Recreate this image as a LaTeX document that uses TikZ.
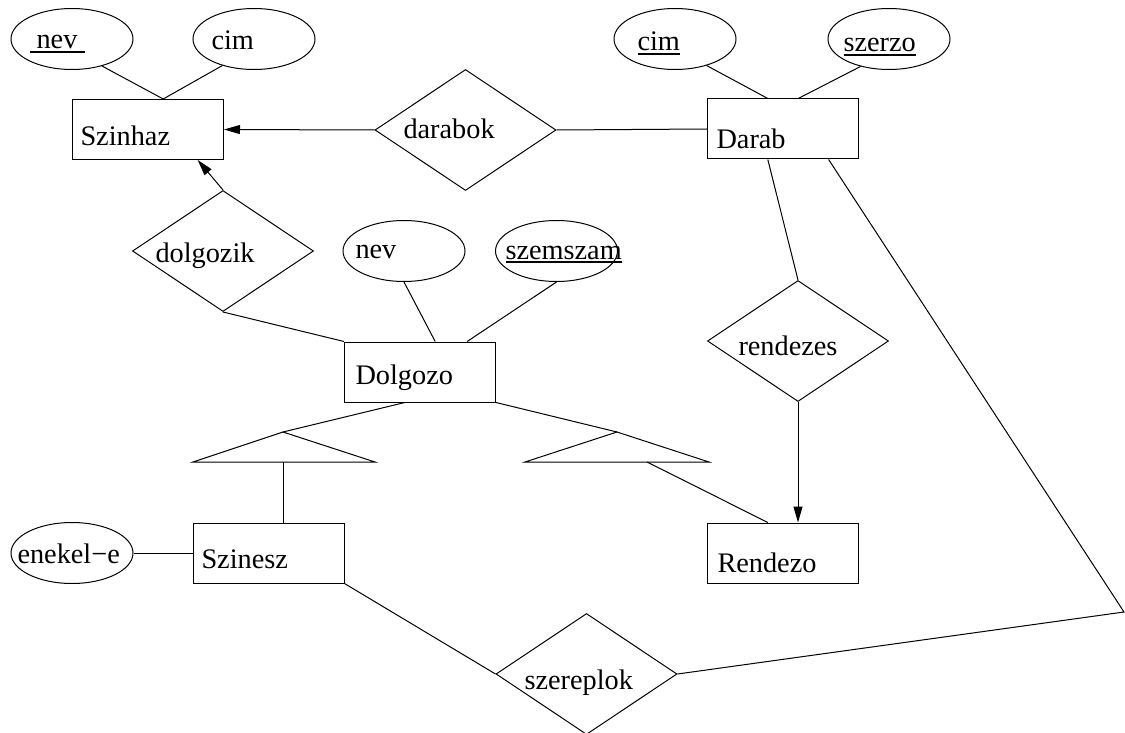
\documentclass[tikz,border=0pt]{standalone}
\usepackage{fontspec}
\setmainfont{Liberation Serif}
\usetikzlibrary{positioning,shapes.geometric,arrows.meta,calc}
\newcommand{\ulkey}[1]{\setbox0\hbox{#1}\rlap{\rule[-4pt]{\wd0}{1.6pt}}\box0}

\begin{document}
\begin{tikzpicture}[x=1pt,y=-1pt,line width=1pt,
  myentity/.style = {draw=black, rectangle, minimum width=151pt, minimum height=60pt, inner sep=0pt},
  myattr/.style = {draw=black, ellipse, minimum width=122pt, minimum height=61pt, inner sep=0pt},
  myrel/.style = {draw=black, diamond, minimum width=181pt, minimum height=121pt, inner sep=0pt},
  mytext/.style = {anchor=base west, inner sep=0pt, font=\fontsize{28.3}{34}\selectfont},
  myarrow/.style = {-{Triangle[length=16pt,width=9pt]}}]
\useasboundingbox (0,0) rectangle (1125,733);

% entities
\node[myentity] (szinhaz) at (148,129.5) {};
\node[myentity] (darab) at (783,129) {};
\node[myentity] (dolgozo) at (420,372) {};
\node[myentity] (szinesz) at (268.5,553) {};
\node[myentity] (rendezo) at (783,553) {};
\node[mytext] (t-szinhaz) at (80,146) {Szinhaz};
\node[mytext] (t-darab) at (716,149) {Darab};
\node[mytext] (t-dolgozo) at (355,384) {Dolgozo};
\node[mytext] (t-szinesz) at (201,568) {Szinesz};
\node[mytext] (t-rendezo) at (717,572) {Rendezo};

% attributes
\node[myattr] (nev1) at (72,39) {};
\node[myattr] (cim1) at (254,39) {};
\node[myattr] (cim2) at (675,39) {};
\node[myattr] (szerzo) at (889,39) {};
\node[myattr] (nev2) at (404,251) {};
\node[myattr] (szemszam) at (556.5,251) {};
\node[myattr] (enekel) at (72,553) {};
\node[mytext] (t-nev1) at (29,49) {\ulkey{\ nev\ }};
\node[mytext] (t-cim1) at (211,50) {cim};
\node[mytext] (t-cim2) at (637,51) {\ulkey{cim}};
\node[mytext] (t-szerzo) at (843,52) {\ulkey{szerzo}};
\node[mytext] (t-nev2) at (355,258) {nev};
\node[mytext] (t-szemszam) at (505,259) {\ulkey{szemszam}};
\node[mytext] (t-enekel) at (17,563) {enekel−e};

% relationships
\node[myrel] (darabok) at (465.5,130) {};
\node[myrel] (dolgozik) at (223,251) {};
\node[myrel] (rendezes) at (798,341) {};
\node[myrel] (szereplok) at (586.5,674) {};
\node[mytext] (t-darabok) at (403,139) {darabok};
\node[mytext] (t-dolgozik) at (155,262) {dolgozik};
\node[mytext] (t-rendezes) at (738,355) {rendezes};
\node[mytext] (t-szereplok) at (524,689) {szereplok};

% isa triangles
\draw (283,432) coordinate (isa1) -- (193,462) -- (375,462) -- cycle;
\draw (617,432) coordinate (isa2) -- (525,462) -- (709,462) -- cycle;
\coordinate (isa1b) at (283,462);
\coordinate (isa2b) at (647,462);
\coordinate (knee) at (1124,612);

\draw (nev1.-42) -- ($(szinhaz.north west)!.6!(szinhaz.north east)$);
\draw (cim1.220) -- ($(szinhaz.north west)!.6!(szinhaz.north east)$);
\draw (cim2.-40) -- ($(darab.north west)!.4!(darab.north east)$);
\draw (szerzo.224) -- ($(darab.north west)!.6!(darab.north east)$);
\draw (nev2.south) -- ($(dolgozo.north west)!.6!(dolgozo.north east)$);
\draw (szemszam.south) -- ($(dolgozo.north west)!.81!(dolgozo.north east)$);
\draw (enekel.east) -- (szinesz.west);

\draw[myarrow] (darabok.west) -- (szinhaz.east);
\draw (darabok.east) -- (darab.west);
\draw[myarrow] (dolgozik.north) -- ($(szinhaz.south west)!.827!(szinhaz.south east)$);
\draw (dolgozik.south) -- (dolgozo.north west);
\draw ($(darab.south west)!.4!(darab.south east)$) -- (rendezes.north);
\draw[myarrow] (rendezes.south) -- (rendezes.south |- rendezo.north);
\draw (szinesz.south east) -- (szereplok.west);
\draw ($(darab.south west)!.8!(darab.south east)$) -- (knee) -- (szereplok.east);

\draw ($(dolgozo.south west)!.4!(dolgozo.south east)$) -- (isa1);
\draw (dolgozo.south east) -- (isa2);
\draw (isa1b) -- (isa1b |- szinesz.north);
\draw (isa2b) -- ($(rendezo.north west)!.4!(rendezo.north east)$);
\end{tikzpicture}
\end{document}
